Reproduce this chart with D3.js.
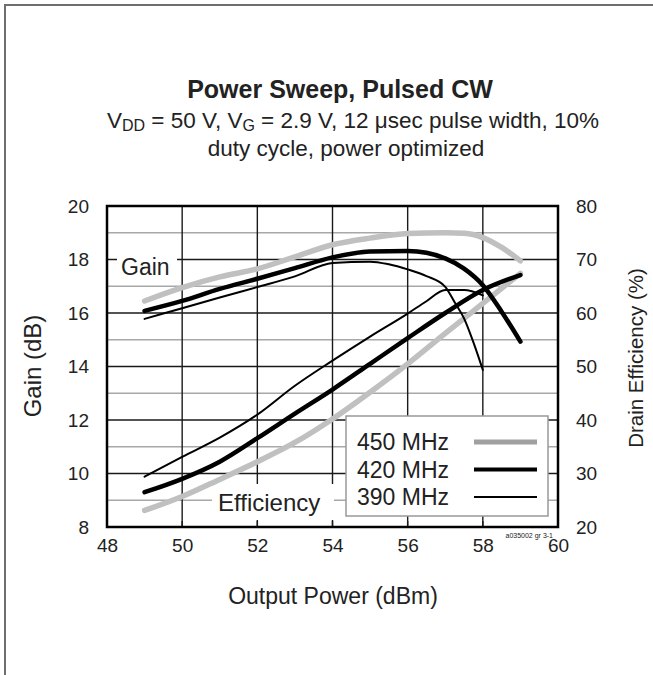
<!DOCTYPE html>
<html>
<head>
<meta charset="utf-8">
<script src="https://cdn.jsdelivr.net/npm/d3@7"></script>
<style>
  body { margin: 0; background: #fff; }
  text { font-family: "Liberation Sans", Arial, sans-serif; fill: #222; }
</style>
</head>
<body>
<div id="chart"></div>
<script>
// ---- data ----
const xTicks = [48, 50, 52, 54, 56, 58, 60];
const gainTicks = [8, 10, 12, 14, 16, 18, 20];
const effTicks = [20, 30, 40, 50, 60, 70, 80];

const gain450P = [49, 50, 51, 52, 53, 54, 55, 56, 57, 57.5, 58, 58.5, 59];
const gain450 = [16.45, 16.95, 17.35, 17.65, 18.1, 18.55, 18.8, 18.97, 19.0, 18.98, 18.82, 18.45, 17.95];
const gain420P = [49, 50, 51, 52, 53, 54, 55, 56, 56.5, 57, 57.5, 58, 58.5, 59];
const gain420 = [16.08, 16.45, 16.9, 17.28, 17.68, 18.08, 18.3, 18.32, 18.25, 18.04, 17.66, 17.04, 16.05, 14.93];
const gain390P = [49, 50, 51, 52, 53, 54, 55, 55.5, 56, 56.5, 57, 57.25, 57.5, 57.75, 58];
const gain390 = [15.78, 16.18, 16.58, 16.97, 17.37, 17.87, 17.92, 17.82, 17.63, 17.38, 16.98, 16.4, 15.8, 14.9, 13.87];

const eff450P = [49, 50, 51, 52, 53, 54, 55, 56, 57, 58, 59];
const eff450 = [23.1, 25.7, 28.9, 32.2, 35.8, 40.2, 45.2, 50.5, 56.2, 61.8, 67.4];
const eff420P = [49, 50, 51, 52, 53, 54, 55, 56, 57, 58, 59];
const eff420 = [26.5, 29.0, 32.2, 36.6, 41.2, 45.7, 50.5, 55.3, 60.0, 64.3, 67.1];
const eff390P = [49, 50, 51, 52, 53, 54, 55, 56, 56.5, 57, 57.5, 58];
const eff390 = [29.4, 33.1, 36.7, 41.0, 46.4, 51.1, 55.6, 59.9, 62.2, 64.3, 64.3, 63.3];

const legendNames = ["450 MHz", "420 MHz", "390 MHz"];

// ---- layout ----
const width = 653, height = 675;
const m = { left: 107, right: 558, top: 206, bottom: 527 };

const svg = d3.select("#chart").append("svg")
  .attr("width", width)
  .attr("height", height);

// frame (cropped on right / bottom)
svg.append("path")
  .attr("d", `M5,${height} L5,5 L${width},5`)
  .attr("fill", "none")
  .attr("stroke", "#6e6e6e")
  .attr("stroke-width", 2);

const x = d3.scaleLinear().domain([48, 60]).range([m.left, m.right]);
const yG = d3.scaleLinear().domain([8, 20]).range([m.bottom, m.top]);
const yE = d3.scaleLinear().domain([20, 80]).range([m.bottom, m.top]);

// ---- grid ----
const grid = svg.append("g");
grid.selectAll(".hg")
  .data(d3.range(9, 20))
  .enter().append("line")
  .attr("x1", m.left).attr("x2", m.right)
  .attr("y1", d => yG(d)).attr("y2", d => yG(d))
  .attr("stroke", d => d % 2 === 0 ? "#1a1a1a" : "#a8a8a8")
  .attr("stroke-width", 1.4);
grid.selectAll(".vg")
  .data(xTicks.slice(1, -1))
  .enter().append("line")
  .attr("x1", d => x(d)).attr("x2", d => x(d))
  .attr("y1", m.top).attr("y2", m.bottom)
  .attr("stroke", "#1a1a1a")
  .attr("stroke-width", 1.4);

// labels inside plot with white boxes
svg.append("rect").attr("x", 117).attr("y", 253).attr("width", 60).attr("height", 28).attr("fill", "#fff");
svg.append("text").attr("x", 121).attr("y", 275)
  .attr("font-size", 23).text("Gain");
svg.append("rect").attr("x", 212).attr("y", 484).attr("width", 122).attr("height", 36).attr("fill", "#fff");
svg.append("text").attr("x", 218).attr("y", 511)
  .attr("font-size", 24).text("Efficiency");

// short inward ticks along the bottom
svg.append("g").selectAll("line")
  .data(xTicks.slice(1, -1))
  .enter().append("line")
  .attr("x1", d => x(d)).attr("x2", d => x(d))
  .attr("y1", m.bottom).attr("y2", m.bottom - 6)
  .attr("stroke", "#1a1a1a").attr("stroke-width", 1.4);

// ---- curves ----
const line = (px, py, ys) => d3.line()
  .x((d, i) => x(px[i]))
  .y(d => ys(d))
  .curve(d3.curveMonotoneX)(py);

const series = [
  { p: gain450P, v: gain450, s: yG, c: "#c0c0c0", w: 5.5 },
  { p: eff450P, v: eff450, s: yE, c: "#c0c0c0", w: 5.5 },
  { p: gain420P, v: gain420, s: yG, c: "#000", w: 4.5 },
  { p: eff420P, v: eff420, s: yE, c: "#000", w: 4.5 },
  { p: gain390P, v: gain390, s: yG, c: "#000", w: 2 },
  { p: eff390P, v: eff390, s: yE, c: "#000", w: 2 }
];
svg.append("g").selectAll("path")
  .data(series)
  .enter().append("path")
  .attr("d", d => line(d.p, d.v, d.s))
  .attr("fill", "none")
  .attr("stroke", d => d.c)
  .attr("stroke-width", d => d.w)
  .attr("stroke-linecap", "round")
  .attr("stroke-linejoin", "round");

// ---- legend ----
const lg = svg.append("g");
lg.append("rect").attr("x", 346).attr("y", 416).attr("width", 202).attr("height", 100)
  .attr("fill", "#fff").attr("stroke", "#999").attr("stroke-width", 1.5);
const legendStyle = [["#a0a0a0", 5], ["#000", 4], ["#000", 2]];
legendNames.forEach((name, i) => {
  const yy = 442 + i * 27.5;
  lg.append("text").attr("x", 357).attr("y", yy + 8)
    .attr("font-size", 23).text(name);
  lg.append("line").attr("x1", 474).attr("x2", 537).attr("y1", yy).attr("y2", yy)
    .attr("stroke", legendStyle[i][0]).attr("stroke-width", legendStyle[i][1]);
});

// plot border
svg.append("rect")
  .attr("x", m.left).attr("y", m.top)
  .attr("width", m.right - m.left).attr("height", m.bottom - m.top)
  .attr("fill", "none").attr("stroke", "#000").attr("stroke-width", 2.5);

// ---- axes labels ----
const xAxis = d3.axisBottom(x).tickValues(xTicks).tickSize(0).tickPadding(12);
svg.append("g").attr("transform", `translate(0,${m.bottom})`).call(xAxis)
  .call(g => g.select(".domain").remove())
  .selectAll("text").attr("font-size", 19).attr("fill", "#222");

const yAxisL = d3.axisLeft(yG).tickValues(gainTicks).tickSize(0).tickPadding(18);
svg.append("g").attr("transform", `translate(${m.left},0)`).call(yAxisL)
  .call(g => g.select(".domain").remove())
  .selectAll("text").attr("font-size", 19).attr("fill", "#222");

const yAxisR = d3.axisRight(yE).tickValues(effTicks).tickSize(0).tickPadding(18);
svg.append("g").attr("transform", `translate(${m.right},0)`).call(yAxisR)
  .call(g => g.select(".domain").remove())
  .selectAll("text").attr("font-size", 19).attr("fill", "#222");

svg.selectAll(".tick text").attr("font-family", "Liberation Sans, Arial, sans-serif");

svg.append("text").attr("x", 333).attr("y", 604).attr("text-anchor", "middle")
  .attr("font-size", 23).text("Output Power (dBm)");
svg.append("text").attr("transform", "translate(41,366) rotate(-90)")
  .attr("text-anchor", "middle").attr("font-size", 24).text("Gain (dB)");
svg.append("text").attr("transform", "translate(643,358) rotate(-90)")
  .attr("text-anchor", "middle").attr("font-size", 20.5).text("Drain Efficiency (%)");

svg.append("text").attr("x", 553).attr("y", 538).attr("text-anchor", "end")
  .attr("font-size", 7).text("a035002 gr 3-1");

// ---- titles ----
svg.append("text").attr("x", 340).attr("y", 98).attr("text-anchor", "middle")
  .attr("font-size", 25).attr("font-weight", "bold").text("Power Sweep, Pulsed CW");
const sub = svg.append("text").attr("x", 353).attr("y", 128).attr("text-anchor", "middle")
  .attr("font-size", 22.5);
sub.append("tspan").text("V");
sub.append("tspan").attr("font-size", 16).attr("dy", 3).text("DD");
sub.append("tspan").attr("dy", -3).text(" = 50 V, V");
sub.append("tspan").attr("font-size", 16).attr("dy", 3).text("G");
sub.append("tspan").attr("dy", -3).text(" = 2.9 V, 12 μsec pulse width, 10%");
svg.append("text").attr("x", 346).attr("y", 156).attr("text-anchor", "middle")
  .attr("font-size", 22.5).text("duty cycle, power optimized");
</script>
</body>
</html>
